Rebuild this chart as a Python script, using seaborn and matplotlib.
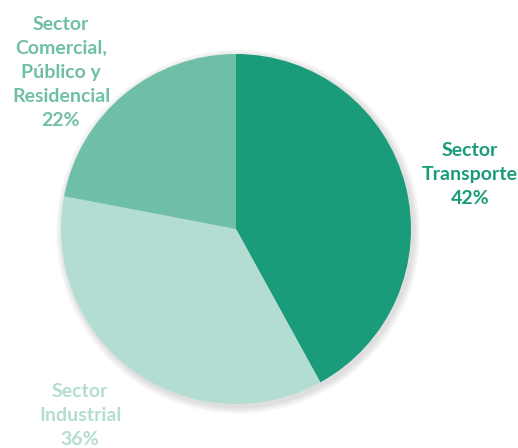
import matplotlib
matplotlib.use("Agg")
import matplotlib.pyplot as plt
import seaborn as sns
from matplotlib.patches import Circle

sectors = ["Sector\nTransporte", "Sector\nIndustrial", "Sector\nComercial,\nPúblico y\nResidencial"]
shares = [42, 36, 22]
colors = ["#1a9b7a", "#b3dcd3", "#6fbfa8"]
label_pos = [(1.337, 0.309), (-0.891, -1.063), (-1.0, 0.897)]

sns.set_theme(style="white")
plt.rcParams["font.family"] = ["Lato", "DejaVu Sans"]

fig = plt.figure(figsize=(5.18, 4.48), dpi=100)
ax = fig.add_axes([(236 - 175) / 518, (448 - 229 - 175) / 448, 350 / 518, 350 / 448])

# soft drop shadow under the pie
for i in range(4):
    ax.add_patch(Circle((0.012, -0.015), 1.0 + 0.01 * (i + 1), color="black",
                        alpha=0.03, lw=0, zorder=0, clip_on=False))

wedges, _ = ax.pie(shares, colors=colors, startangle=90, counterclock=False,
                   radius=1.0, wedgeprops=dict(linewidth=0))
for w in wedges:
    w.set_zorder(2)
    w.set_clip_on(False)

for name, val, col, (x, y) in zip(sectors, shares, colors, label_pos):
    ax.text(x, y, f"{name}\n{val}%", color=col, ha="center", va="center",
            fontsize=14, fontweight="bold", linespacing=1.5, zorder=3,
            clip_on=False)

ax.set_xlim(-1, 1)
ax.set_ylim(-1, 1)
ax.set_aspect("equal")
ax.axis("off")

fig.savefig("out.png", dpi=100)
